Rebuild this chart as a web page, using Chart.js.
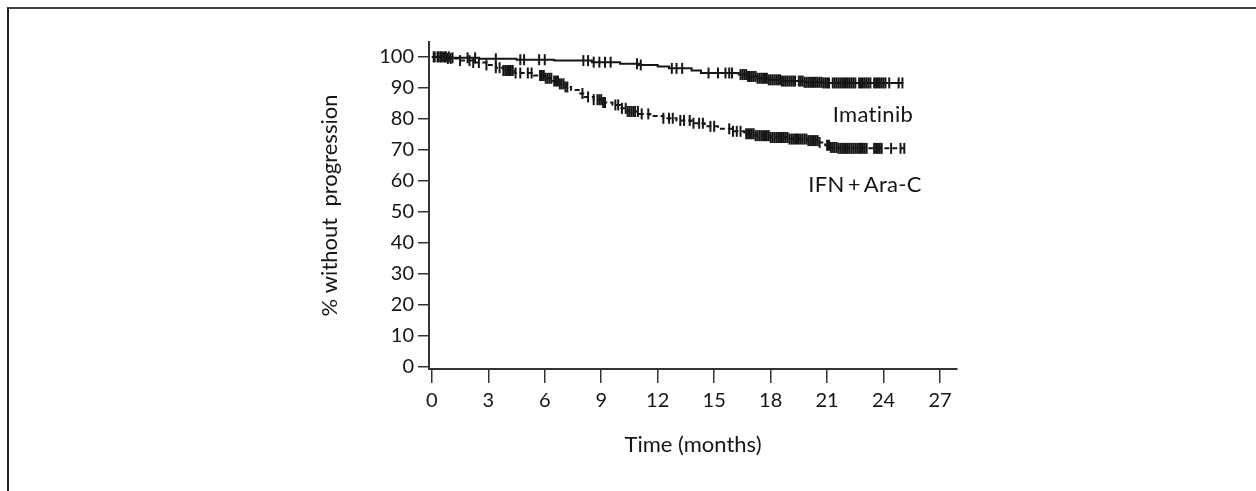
<!DOCTYPE html>
<html>
<head>
<meta charset="utf-8">
<script src="https://cdn.jsdelivr.net/npm/chart.js@4.4.1/dist/chart.umd.min.js"></script>
<style>
  html, body { margin: 0; padding: 0; background: #fff; }
  #wrap { position: relative; width: 1256px; height: 491px; overflow: hidden; }
  #frame {
    position: absolute; left: 7px; top: 7px; right: -10px; bottom: -10px;
    border-top: 2px solid #444; border-left: 2px solid #222;
  }
  #chart { position: absolute; left: 0; top: 0; }
</style>
</head>
<body>
<div id="wrap">
  <div id="frame"></div>
  <canvas id="chart" width="1256" height="491"></canvas>
</div>
<script>
// Kaplan-Meier steps: time (months) where the estimate changes, value (%) from there on
const imatinibTime = [0, 1.0, 2.5, 4.5, 6.5, 8.5, 10.0, 11.0, 12.0, 12.6, 13.8, 14.3, 16.3, 16.8, 17.3, 17.9, 18.6, 19.8, 20.8, 25.05];
const imatinibSurv = [100, 99.7, 99.4, 99.1, 98.8, 98.3, 97.8, 97.4, 96.9, 96.3, 95.6, 94.8, 94.3, 93.7, 93.1, 92.6, 92.2, 91.8, 91.6, 91.6];

const ifnTime = [0, 0.8, 1.4, 2.2, 2.9, 3.4, 3.8, 4.4, 5.4, 6.0, 6.4, 6.8, 7.1, 7.4, 7.8, 8.1, 8.6, 9.1, 9.6, 10.0, 10.4, 11.0, 11.6, 12.3, 13.0, 13.8, 14.5, 15.2, 16.0, 16.6, 17.2, 18.0, 19.0, 20.0, 20.6, 20.9, 21.2, 21.6, 25.1];
const ifnSurv = [100, 99.5, 98.8, 98.2, 97.4, 96.5, 95.6, 94.8, 94.0, 93.1, 92.2, 91.3, 90.3, 89.3, 88.2, 87.1, 86.2, 85.3, 84.5, 83.4, 82.4, 81.6, 80.9, 80.2, 79.5, 78.6, 77.6, 76.8, 76.0, 75.2, 74.6, 74.0, 73.5, 73.0, 72.4, 71.5, 70.8, 70.5, 70.5];

// censored patients (months)
const imatinibCensor = [0.1, 0.3, 0.45, 0.6, 0.75, 0.9, 1.1, 1.9, 2.3, 3.4, 4.7, 4.9, 5.7, 6.0, 8.05, 8.3, 8.6, 8.9, 9.2, 9.5, 10.9, 11.1, 12.75, 13.0, 13.3, 14.7, 15.2, 15.6, 15.8, 15.95,
  16.4, 16.5, 16.6, 16.7, 16.8, 16.9, 17.0, 17.1, 17.2, 17.3, 17.4, 17.5, 17.6, 17.7, 17.8, 17.9, 18.0, 18.1, 18.2, 18.3, 18.4, 18.5, 18.6, 18.7, 18.8, 18.9, 19.0, 19.1, 19.2, 19.3,
  19.5, 19.6, 19.7, 19.8, 19.9, 20.0, 20.1, 20.2, 20.3, 20.4, 20.5, 20.6, 20.7, 20.8, 20.9, 21.0, 21.1, 21.3, 21.4, 21.5, 21.6, 21.7, 21.8, 21.9, 22.0, 22.1, 22.2, 22.3, 22.4, 22.5,
  22.7, 22.8, 22.9, 23.0, 23.1, 23.2, 23.3, 23.5, 23.6, 23.7, 23.8, 23.9, 24.0, 24.1, 24.3, 24.8, 25.0];
const ifnCensor = [0.15, 0.35, 0.5, 0.7, 0.85, 1.0, 1.5, 2.0, 2.2, 2.5, 2.9, 3.4, 3.6, 3.8, 3.9, 4.0, 4.1, 4.2, 4.3, 4.45, 4.7, 5.1, 5.3,
  5.75, 5.85, 5.95, 6.05, 6.15, 6.25, 6.35, 6.5, 6.6, 6.7, 6.8, 6.9, 7.0, 7.1, 7.2, 8.0, 8.3, 8.6, 8.8, 8.9, 9.0, 9.1, 9.2, 9.75, 9.9, 10.1,
  10.3, 10.4, 10.5, 10.6, 10.7, 10.8, 10.95, 11.15, 11.5, 12.3, 12.6, 12.8, 13.2, 13.4, 13.7, 13.9, 14.2, 14.4, 14.8, 15.0, 15.8, 16.0, 16.2, 16.4,
  16.7, 16.8, 16.9, 17.0, 17.1, 17.2, 17.3, 17.4, 17.5, 17.6, 17.7, 17.8, 17.9, 18.0, 18.1, 18.2, 18.3, 18.4, 18.5, 18.6, 18.7, 18.8, 18.9, 19.0,
  19.1, 19.2, 19.3, 19.4, 19.5, 19.6, 19.7, 19.8, 19.9, 20.0, 20.1, 20.2, 20.3, 20.4, 20.5, 20.6, 21.0, 21.1, 21.2, 21.3, 21.4, 21.5, 21.6, 21.7,
  21.8, 21.9, 22.0, 22.1, 22.2, 22.3, 22.4, 22.5, 22.6, 22.7, 22.8, 22.9, 23.0, 23.1, 23.5, 23.6, 23.7, 23.8, 23.9, 24.4, 24.9, 25.1];

const xTicks = [0, 3, 6, 9, 12, 15, 18, 21, 24, 27];
const yTicks = [0, 10, 20, 30, 40, 50, 60, 70, 80, 90, 100];

// curve names written next to each line: [text, month, percent]
const curveLabels = [
  ['Imatinib', 21.3, 81.3],
  ['IFN\u2009+\u2009Ara-C', 20.0, 58.7]
];

const INK = '#161616';
const AXIS = '#333';
const FONT = 'Lato, "Open Sans", sans-serif';

function toPoints(times, values){
  return times.map((t, i) => ({x: t, y: values[i]}));
}

// value of a step curve at time t
function stepValue(times, values, t){
  let v = values[0];
  for(let i = 0; i < times.length; i++){
    if(times[i] <= t) v = values[i];
  }
  return v;
}

function censorPoints(censor, times, values){
  return censor.map(t => ({x: t, y: stepValue(times, values, t)}));
}

const censorStyle = {
  type: 'scatter',
  showLine: false,
  pointStyle: 'line',
  rotation: 90,
  pointRadius: 5.5,
  pointHoverRadius: 5.5,
  borderWidth: 2,
  borderColor: INK,
  backgroundColor: INK
};

const curveLabelPlugin = {
  id: 'curveLabels',
  afterDatasetsDraw(chart){
    const {ctx, scales: {x, y}} = chart;
    ctx.save();
    ctx.fillStyle = INK;
    ctx.font = '22px ' + FONT;
    // a tiny spacing keeps Lato from joining "ti"
    ctx.letterSpacing = '0.3px';
    ctx.textAlign = 'left';
    ctx.textBaseline = 'middle';
    curveLabels.forEach(([text, t, v]) => {
      ctx.fillText(text, x.getPixelForValue(t), y.getPixelForValue(v));
    });
    ctx.restore();
  }
};

new Chart(document.getElementById('chart'), {
  type: 'line',
  data: {
    datasets: [
      {
        label: 'Imatinib',
        data: toPoints(imatinibTime, imatinibSurv),
        stepped: 'before',
        borderColor: INK,
        borderWidth: 2,
        pointRadius: 0,
        fill: false
      },
      {
        label: 'IFN+Ara-C',
        data: toPoints(ifnTime, ifnSurv),
        stepped: 'before',
        borderColor: INK,
        borderWidth: 2,
        borderDash: [5, 3],
        pointRadius: 0,
        fill: false
      },
      Object.assign({label: 'Imatinib censored', data: censorPoints(imatinibCensor, imatinibTime, imatinibSurv)}, censorStyle),
      Object.assign({label: 'IFN+Ara-C censored', data: censorPoints(ifnCensor, ifnTime, ifnSurv)}, censorStyle)
    ]
  },
  options: {
    responsive: false,
    animation: false,
    events: [],
    layout: {
      padding: {left: 317, right: 299, top: 42, bottom: 33}
    },
    plugins: {
      legend: {display: false},
      tooltip: {enabled: false}
    },
    scales: {
      x: {
        type: 'linear',
        min: -0.15,
        max: 27.9,
        afterBuildTicks(scale){
          scale.ticks = xTicks.map(v => ({value: v}));
        },
        afterFit(scale){
          scale.height = 89;
        },
        ticks: {
          color: INK,
          padding: 6,
          maxRotation: 0,
          font: {family: FONT, size: 20}
        },
        grid: {
          drawOnChartArea: false,
          drawTicks: true,
          tickLength: 14,
          color: AXIS,
          lineWidth: 1.5
        },
        border: {display: true, color: AXIS, width: 2},
        title: {
          display: true,
          text: 'Time (months)',
          color: INK,
          padding: 0,
          font: {family: FONT, size: 22}
        }
      },
      y: {
        type: 'linear',
        min: -0.65,
        max: 104.8,
        afterBuildTicks(scale){
          scale.ticks = yTicks.map(v => ({value: v}));
        },
        afterFit(scale){
          scale.width = 112;
        },
        ticks: {
          color: INK,
          padding: 4,
          font: {family: FONT, size: 20}
        },
        grid: {
          drawOnChartArea: false,
          drawTicks: true,
          tickLength: 11,
          color: AXIS,
          lineWidth: 1.5
        },
        border: {display: true, color: AXIS, width: 2},
        title: {
          display: true,
          text: '% without  progression',
          color: INK,
          padding: 0,
          font: {family: FONT, size: 22}
        }
      }
    }
  },
  plugins: [curveLabelPlugin]
});
</script>
</body>
</html>
